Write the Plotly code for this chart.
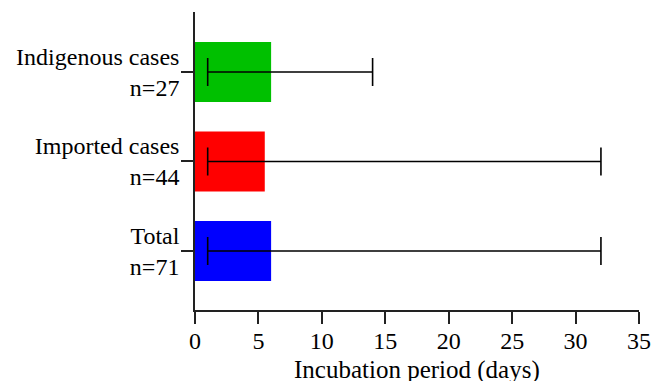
import plotly.graph_objects as go

categories = ["Total<br>n=71", "Imported cases<br>n=44", "Indigenous cases<br>n=27"]
medians = [6, 5.5, 6]
mins = [1, 1, 1]
maxs = [32, 32, 14]
colors = ["#0000FF", "#FF0000", "#00C000"]
x_ticks = [0, 5, 10, 15, 20, 25, 30, 35]
x_title = "Incubation period (days)"

fig = go.Figure()
fig.add_trace(go.Bar(
    y=categories, x=medians, orientation="h",
    marker=dict(color=colors, line=dict(width=0)),
    width=0.67,
    error_x=dict(
        type="data", symmetric=False,
        array=[mx - m for mx, m in zip(maxs, medians)],
        arrayminus=[m - mn for m, mn in zip(medians, mins)],
        color="black", thickness=1.6, width=14,
    ),
))

font = "Liberation Serif, Times New Roman, serif"
fig.update_layout(
    width=651, height=381,
    margin=dict(l=195, r=12, t=12, b=71),
    plot_bgcolor="white", paper_bgcolor="white",
    showlegend=False,
    font=dict(family=font, size=24, color="black"),
    xaxis=dict(
        range=[0, 35], tickvals=x_ticks, showgrid=False, zeroline=False,
        automargin=False,
        showline=True, linecolor="#222", linewidth=1.6,
        ticks="outside", ticklen=12, tickwidth=1.6, tickcolor="#222",
        tickfont=dict(size=24), ticklabelstandoff=-4,
    ),
    yaxis=dict(
        range=[-0.66, 2.67], showgrid=False, zeroline=False,
        automargin=False,
        showline=True, linecolor="#222", linewidth=1.6,
        ticks="outside", ticklen=12, tickwidth=1.6, tickcolor="#222",
        tickfont=dict(size=24), ticklabelstandoff=-3,
    ),
    annotations=[dict(
        text=x_title, xref="paper", yref="paper", x=0.5, y=0,
        xanchor="center", yanchor="top", yshift=-44, showarrow=False,
        font=dict(size=25),
    )],
)

fig.write_html(
    "out.html",
    config={"displayModeBar": False},
    post_script="document.body.style.margin='0';document.body.style.overflow='hidden';",
)
